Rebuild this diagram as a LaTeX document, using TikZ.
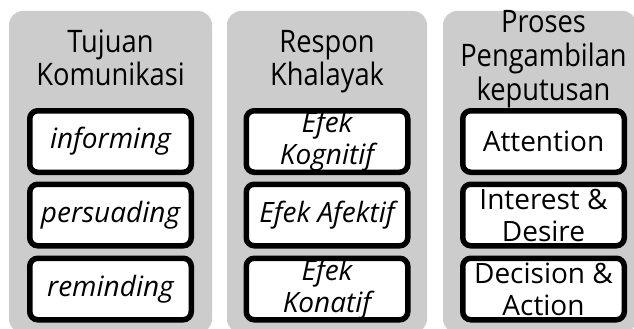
\documentclass[tikz,border=0pt]{standalone}
\usepackage{fontspec}
\setmainfont{Open Sans}
\newfontfamily\headfont[FakeStretch=0.88]{Open Sans}
\definecolor{panelgray}{RGB}{204,204,204}
\begin{document}
\begin{tikzpicture}[x=1pt,y=-1pt,
  panel/.style={fill=panelgray, rounded corners=14pt, minimum height=322pt, inner sep=0pt},
  itembox/.style={draw=black, fill=white, line width=5.5pt, rounded corners=8pt,
    minimum width=161.5pt, minimum height=61.5pt, inner sep=0pt, align=center,
    font=\fontsize{28}{32}\selectfont},
  head/.style={anchor=base, inner sep=0pt, font=\headfont\fontsize{31}{33}\selectfont}]
\useasboundingbox (0,0) rectangle (634,329);
\clip (0,0) rectangle (634,329);

% three grey columns
\node[panel, minimum width=203pt] (p1) at (110.5,172) {};
\node[panel, minimum width=200pt] (p2) at (327,172) {};
\node[panel, minimum width=193.5pt] (p3) at (539.75,172) {};

% column headings
\node[head] (h1a) at (110.5,52.5) {Tujuan};
\node[head] (h1b) at (110.5,85.5) {Komunikasi};
\node[head] (h2a) at (327,52.5) {Respon};
\node[head] (h2b) at (327,85.5) {Khalayak};
\node[head] (h3a) at (543.5,33) {Proses};
\node[head] (h3b) at (543.5,66.5) {Pengambilan};
\node[head] (h3c) at (543.5,100) {keputusan};

% communication goals
\node[itembox] (g1) at (110.5,141.5) {\itshape informing};
\node[itembox] (g2) at (110.5,215) {\itshape persuading};
\node[itembox] (g3) at (110.5,289) {\itshape reminding};

% audience response
\node[itembox] (r1) at (327,141.5) {\itshape Efek\\\itshape Kognitif};
\node[itembox] (r2) at (327,215) {\itshape Efek Afektif};
\node[itembox] (r3) at (327,289) {\itshape Efek\\\itshape Konatif};

% decision process
\node[itembox] (d1) at (543.5,141.5) {Attention};
\node[itembox] (d2) at (543.5,215) {Interest \&\\Desire};
\node[itembox] (d3) at (543.5,289) {Decision \&\\Action};
\end{tikzpicture}
\end{document}
